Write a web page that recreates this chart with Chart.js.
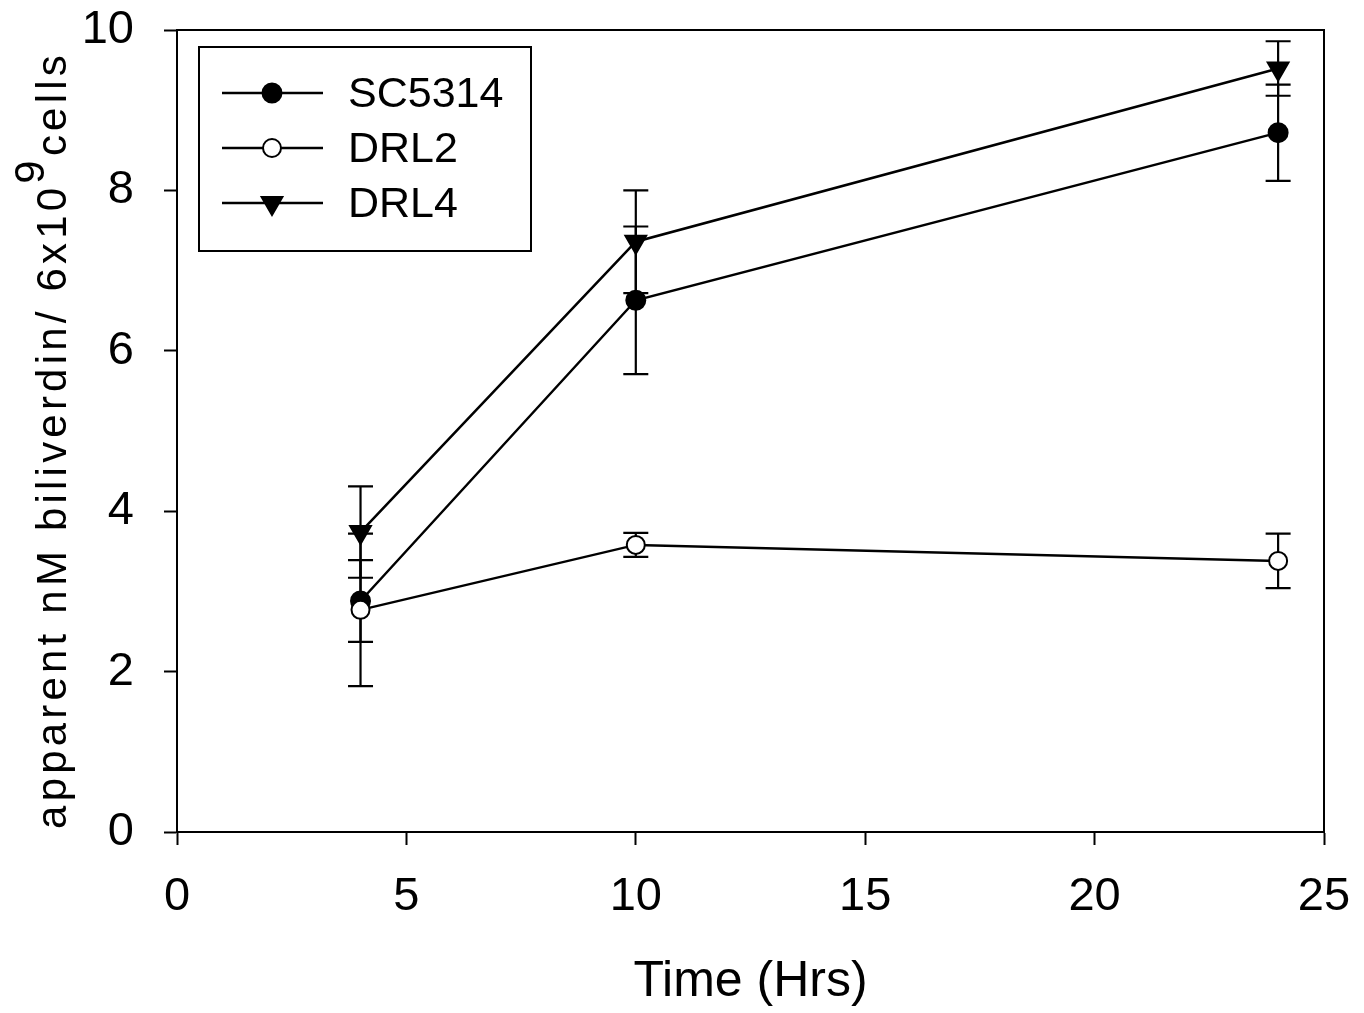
<!DOCTYPE html>
<html>
<head>
<meta charset="utf-8">
<script src="https://cdn.jsdelivr.net/npm/chart.js@4.4.1/dist/chart.umd.min.js"></script>
<style>
  html, body { margin: 0; padding: 0; background: #ffffff; }
  #wrap { width: 1364px; height: 1013px; }
</style>
</head>
<body>
<div id="wrap"><canvas id="c" width="1364" height="1013"></canvas></div>
<script>
// ---- data ----
const timeHrs = [4, 10, 24];
const seriesNames = ["SC5314", "DRL2", "DRL4"];
const sc5314 = [2.88, 6.63, 8.72];
const sc5314Err = [0.51, 0.92, 0.60];
const drl2 = [2.77, 3.58, 3.38];
const drl2Err = [0.95, 0.15, 0.34];
const drl4 = [3.74, 7.36, 9.52];
const drl4Err = [0.57, 0.64, 0.34];
const xTicks = [0, 5, 10, 15, 20, 25];
const yTicks = [0, 2, 4, 6, 8, 10];
const xTitle = "Time (Hrs)";
const yTitleMain = "apparent nM biliverdin/ 6x10";
const yTitleSup = "9";
const yTitleEnd = "cells";

const FONT = "'Liberation Sans', Arial, Helvetica, sans-serif";

function toPoints(xs, ys) { return xs.map((x, i) => ({ x: x, y: ys[i] })); }

const errors = [sc5314Err, drl2Err, drl4Err];

const errorBarPlugin = {
  id: 'errorBars',
  beforeDatasetsDraw(chart) {
    const ctx = chart.ctx;
    const xs = chart.scales.x, ys = chart.scales.y;
    ctx.save();
    ctx.strokeStyle = '#000';
    ctx.lineWidth = 2.2;
    chart.data.datasets.forEach((ds, i) => {
      const err = errors[i];
      ds.data.forEach((p, j) => {
        const px = xs.getPixelForValue(p.x);
        const top = ys.getPixelForValue(p.y + err[j]);
        const bot = ys.getPixelForValue(p.y - err[j]);
        const cap = 12.5;
        ctx.beginPath();
        ctx.moveTo(px, top); ctx.lineTo(px, bot);
        ctx.moveTo(px - cap, top); ctx.lineTo(px + cap, top);
        ctx.moveTo(px - cap, bot); ctx.lineTo(px + cap, bot);
        ctx.stroke();
      });
    });
    ctx.restore();
  }
};

const framePlugin = {
  id: 'frame',
  afterDatasetsDraw(chart) {
    const { ctx, chartArea: a } = chart;
    ctx.save();
    ctx.strokeStyle = '#000';
    ctx.lineWidth = 2;
    ctx.beginPath();
    ctx.moveTo(a.left, a.top); ctx.lineTo(a.right, a.top); ctx.lineTo(a.right, a.bottom);
    ctx.stroke();
    ctx.restore();
  }
};

const yTitlePlugin = {
  id: 'yTitle',
  afterDraw(chart) {
    const ctx = chart.ctx;
    ctx.save();
    ctx.font = '42px ' + FONT;
    ctx.fillStyle = '#000';
    ctx.letterSpacing = '4.2px';
    const w1 = ctx.measureText(yTitleMain).width;
    const w2 = ctx.measureText(yTitleSup).width;
    const w3 = ctx.measureText(yTitleEnd).width;
    const total = w1 + w2 + w3;
    const cy = 440;
    const baseX = 66;
    ctx.translate(baseX, cy);
    ctx.rotate(-Math.PI / 2);
    ctx.textBaseline = 'alphabetic';
    ctx.textAlign = 'left';
    let x0 = -total / 2;
    ctx.fillText(yTitleMain, x0, 0);
    ctx.fillText(yTitleSup, x0 + w1, -22);
    ctx.fillText(yTitleEnd, x0 + w1 + w2, 0);
    ctx.restore();
  }
};

const legendPlugin = {
  id: 'boxLegend',
  afterDraw(chart) {
    const ctx = chart.ctx;
    ctx.save();
    ctx.strokeStyle = '#000';
    ctx.lineWidth = 2;
    ctx.strokeRect(199, 47, 332, 204);
    const rows = [93, 148, 203];
    chart.data.datasets.forEach((ds, i) => {
      const y = rows[i];
      ctx.strokeStyle = '#000';
      ctx.lineWidth = 2.5;
      ctx.beginPath();
      ctx.moveTo(222, y); ctx.lineTo(323, y);
      ctx.stroke();
      ctx.fillStyle = ds.pointBackgroundColor;
      ctx.strokeStyle = ds.pointBorderColor;
      ctx.lineWidth = ds.pointBorderWidth;
      Chart.helpers.drawPoint(ctx, { pointStyle: ds.pointStyle, rotation: ds.pointRotation, radius: ds.pointRadius, borderWidth: ds.pointBorderWidth }, 272, y);
      ctx.fillStyle = '#000';
      ctx.font = '43px ' + FONT;
      ctx.textBaseline = 'middle';
      ctx.textAlign = 'left';
      ctx.fillText(ds.label, 348, y + 2);
    });
    ctx.restore();
  }
};

const common = {
  borderColor: '#000',
  borderWidth: 2.5,
  tension: 0,
  fill: false,
  pointBorderColor: '#000',
  pointBorderWidth: 2,
};

const chart = new Chart(document.getElementById('c'), {
  type: 'line',
  data: {
    datasets: [
      Object.assign({}, common, { label: seriesNames[0], data: toPoints(timeHrs, sc5314), order: 1,
        pointStyle: 'circle', pointRadius: 9.5, pointBackgroundColor: '#000', pointRotation: 0 }),
      Object.assign({}, common, { label: seriesNames[1], data: toPoints(timeHrs, drl2), order: 0,
        pointStyle: 'circle', pointRadius: 9, pointBackgroundColor: '#fff', pointRotation: 0 }),
      Object.assign({}, common, { label: seriesNames[2], data: toPoints(timeHrs, drl4), order: 2,
        pointStyle: 'triangle', pointRadius: 12, pointBackgroundColor: '#000', pointRotation: 180 }),
    ]
  },
  options: {
    responsive: false,
    animation: false,
    devicePixelRatio: 1,
    clip: false,
    layout: { padding: { left: 0, top: 30, right: 40, bottom: 0 } },
    plugins: { legend: { display: false }, tooltip: { enabled: false } },
    scales: {
      x: {
        type: 'linear', min: 0, max: 25,
        afterFit(s) { s.height = 181; s.paddingLeft = 0; s.paddingRight = 0; },
        afterBuildTicks(s) { s.ticks = xTicks.map(v => ({ value: v })); },
        grid: { drawOnChartArea: false, drawTicks: true, tickLength: 13, tickWidth: 2, tickColor: '#000' },
        border: { display: true, color: '#000', width: 2 },
        ticks: { color: '#000', padding: 24, font: { family: FONT, size: 47 }, maxRotation: 0 },
        title: { display: true, text: xTitle, color: '#000', font: { family: FONT, size: 50 }, padding: { top: 0, bottom: 1 } }
      },
      y: {
        type: 'linear', min: 0, max: 10,
        afterFit(s) { s.width = 177; s.paddingTop = 0; s.paddingBottom = 0; },
        afterBuildTicks(s) { s.ticks = yTicks.map(v => ({ value: v })); },
        grid: { drawOnChartArea: false, drawTicks: true, tickLength: 13, tickWidth: 2, tickColor: '#000' },
        border: { display: true, color: '#000', width: 2 },
        ticks: { color: '#000', padding: 30, font: { family: FONT, size: 47 } },
        title: { display: false }
      }
    }
  },
  plugins: [errorBarPlugin, framePlugin, yTitlePlugin, legendPlugin]
});
</script>
</body>
</html>
